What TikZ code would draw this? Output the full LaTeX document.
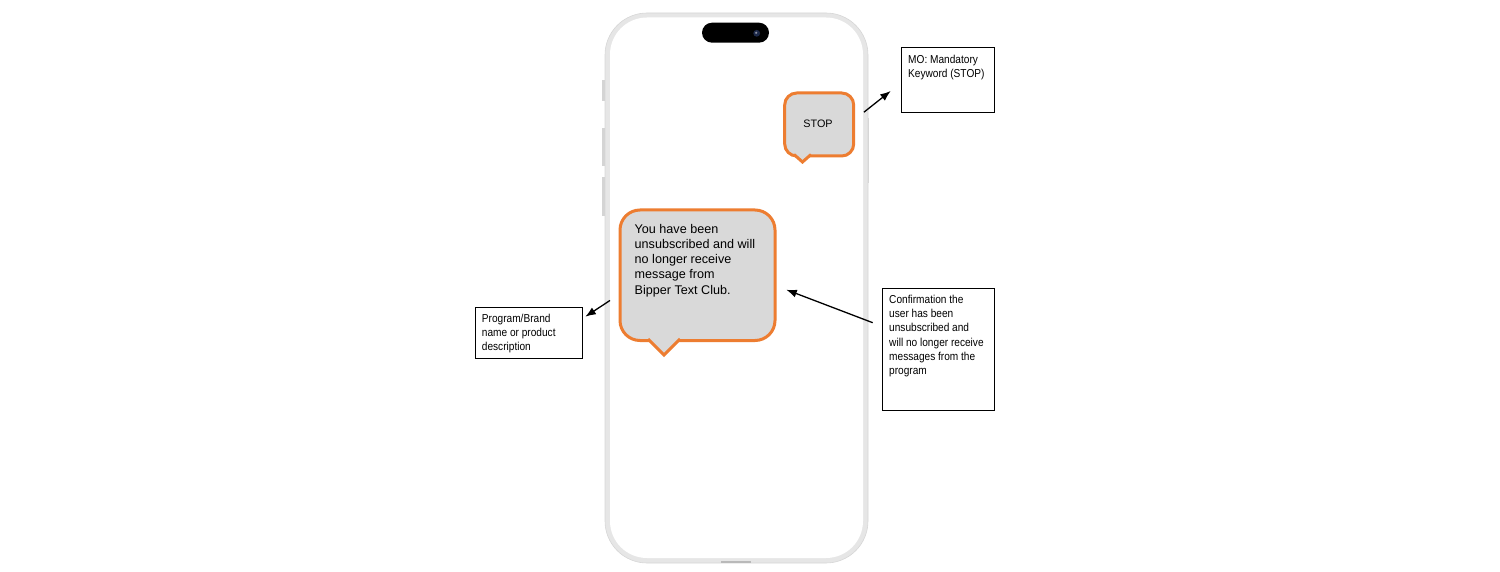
\documentclass[tikz,border=0pt]{standalone}
\usepackage{fontspec}
\setmainfont{Liberation Sans}
\newfontfamily\narrowfont[FakeStretch=0.88]{Liberation Sans}
\usetikzlibrary{arrows.meta,calc}
\definecolor{bubbleorange}{RGB}{237,125,49}
\definecolor{bubblegray}{RGB}{217,217,217}
\definecolor{framegray}{RGB}{230,230,230}
\definecolor{frameedge}{RGB}{214,214,214}
\definecolor{buttongray}{RGB}{212,212,212}
\definecolor{camblue}{RGB}{28,40,72}
\begin{document}
\begin{tikzpicture}[x=1pt,y=-1pt,
  labelbox/.style={draw=black, line width=1pt, fill=white, inner sep=0pt, anchor=north west},
  labeltext/.style={font=\narrowfont\fontsize{11.5}{14.2}\selectfont, align=left, inner sep=0pt, anchor=north west},
  bubble/.style={draw=bubbleorange, fill=bubblegray, line width=3pt, rounded corners=#1, inner sep=0pt, anchor=north west},
  bubbletext/.style={font=\fontsize{12.6}{15.2}\selectfont, align=left, inner sep=0pt, anchor=north west},
  tailfill/.style={fill=bubblegray},
  tailline/.style={draw=bubbleorange, line width=3pt, line join=miter},
  arr/.style={-{Latex[length=10.5pt,width=8pt]}, line width=1.3pt, black},
]
\useasboundingbox (0,0) rectangle (1500,572);

% ---- phone ----
\fill[buttongray] (602.2,80) rectangle (604.6,101);
\fill[buttongray] (602.2,128) rectangle (604.6,166);
\fill[buttongray] (602.2,177) rectangle (604.6,216);
\fill[buttongray] (867,118) rectangle (869,183);
\filldraw[fill=framegray, draw=frameedge, line width=0.6pt, rounded corners=42pt] (605,13) rectangle (868,563);
\fill[white, rounded corners=37pt] (610,17.5) rectangle (863,558);
\fill[black, rounded corners=10pt] (702,22.7) rectangle (769,42.7);
\fill[camblue] (756.7,33.3) circle (3.4pt);
\fill[camblue!50!white] (756.2,32.8) circle (1.2pt);
\draw[gray!55, line width=2pt] (721,562) -- (751,562);

% ---- STOP bubble ----
\node[bubble=12pt, minimum width=69pt, minimum height=63pt] (stop) at (783.2,91.5) {};
\fill[tailfill] (794,153) -- (802.5,162) -- (811,153) -- cycle;
\draw[tailline] (794,154.5) -- (802.5,162) -- (811,154.5);
\node[font=\fontsize{10.8}{13}\selectfont, inner sep=0pt] (stoptext) at (818,123.3) {STOP};

% ---- message bubble ----
\node[bubble=20pt, minimum width=155pt, minimum height=130.5pt] (msg) at (618.5,208.5) {};
\fill[tailfill] (648,337.5) -- (664,355) -- (680,337.5) -- cycle;
\draw[tailline] (648,339) -- (664,355) -- (680,339);
\node[bubbletext] (msgtext) at (634.5,224) {You have been\\unsubscribed and will\\no longer receive\\message from\\Bipper Text Club.};

% ---- label boxes ----
\node[labelbox, minimum width=93.3pt, minimum height=65pt] (mo) at (900.7,47) {};
\node[labeltext] (motext) at (908,54.6) {MO: Mandatory\\Keyword (STOP)};

\node[labelbox, minimum width=107pt, minimum height=51pt] (prog) at (475,307) {};
\node[labeltext] (progtext) at (481.7,313.6) {Program/Brand\\name or product\\description};

\node[labelbox, minimum width=112pt, minimum height=122pt] (conf) at (882,288) {};
\node[labeltext] (conftext) at (889,295) {Confirmation the\\user has been\\unsubscribed and\\will no longer receive\\messages from the\\program};

% ---- arrows ----
\draw[arr] ($(stop.east)+(8.7,-12.3)$) -- ($(mo.north west)+(-10,44)$);
\draw[arr] ($(msg.west)+(-8.5,25.2)$) -- ($(prog.north east)+(2.3,9.7)$);
\draw[arr] ($(conf.north west)+(-9.3,34.7)$) -- ($(msg.east)+(9.8,14.5)$);
\end{tikzpicture}
\end{document}
